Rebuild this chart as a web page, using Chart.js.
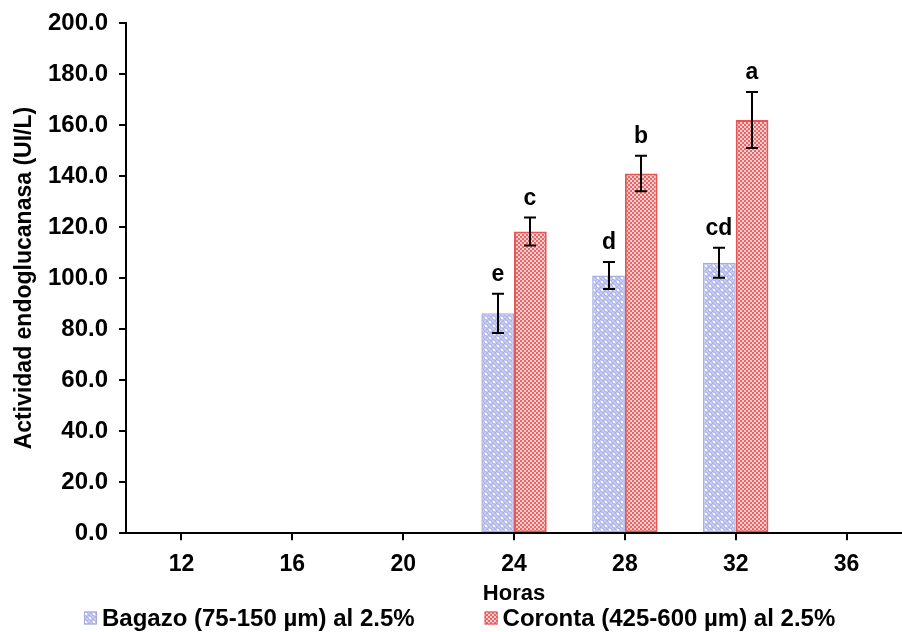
<!DOCTYPE html>
<html>
<head>
<meta charset="utf-8">
<script src="https://cdn.jsdelivr.net/npm/chart.js@4.4.1/dist/chart.umd.min.js"></script>
<style>
  html, body { margin: 0; padding: 0; background: #ffffff; }
  #wrap { width: 902px; height: 632px; position: relative; }
</style>
</head>
<body>
<div id="wrap"><canvas id="chart" width="902" height="632"></canvas></div>
<script>
// Sampling times (hours)
const horas = ['12', '16', '20', '24', '28', '32', '36'];

// Endoglucanase activity (UI/L) and standard deviation per substrate
const bagazo      = [0, 0, 0, 86.2, 101.0, 106.0, 0];
const bagazoErr   = [0, 0, 0, 7.7, 5.3, 5.9, 0];
const coronta     = [0, 0, 0, 118.3, 141.0, 162.0, 0];
const corontaErr  = [0, 0, 0, 5.5, 7.0, 11.0, 0];

// Significance letters (Tukey groups)
const bagazoLetras  = ['', '', '', 'e', 'd', 'cd', ''];
const corontaLetras = ['', '', '', 'c', 'b', 'a', ''];

// Series names
const nombres = ['Bagazo (75-150 µm) al 2.5%', 'Coronta (425-600 µm) al 2.5%'];

// Y axis range
const yMin = 0, yMax = 200, yStep = 20;

const FONT = '"Liberation Sans", Arial, sans-serif';

// Dotted blue texture: light checker with staggered white dots
function dotPattern() {
  const c = document.createElement('canvas');
  c.width = 8; c.height = 8;
  const g = c.getContext('2d');
  g.fillStyle = '#afb5e8';
  g.fillRect(0, 0, 8, 8);
  g.fillStyle = '#cacef2';
  for (let y = 0; y < 8; y += 2) for (let x = 0; x < 8; x += 2) if (((x + y) / 2) % 2 === 0) g.fillRect(x, y, 2, 2);
  g.fillStyle = '#ffffff';
  g.fillRect(1, 1, 2, 2);
  g.fillRect(5, 5, 2, 2);
  return g.createPattern(c, 'repeat');
}

// Red checker texture
function checkerPattern() {
  const c = document.createElement('canvas');
  c.width = 4; c.height = 4;
  const g = c.getContext('2d');
  g.fillStyle = '#fbd0d0';
  g.fillRect(0, 0, 4, 4);
  g.fillStyle = '#ee6464';
  g.fillRect(0, 0, 2, 2);
  g.fillRect(2, 2, 2, 2);
  return g.createPattern(c, 'repeat');
}

const ctx0 = document.getElementById('chart').getContext('2d');
const bluePat = dotPattern();
const redPat = checkerPattern();

// Error bars plus significance letters above each bar
const errorBars = {
  id: 'errorBars',
  afterDatasetsDraw(chart) {
    const ctx = chart.ctx;
    const ys = chart.scales.y;
    const errs = [bagazoErr, corontaErr];
    const vals = [bagazo, coronta];
    const letras = [bagazoLetras, corontaLetras];
    ctx.save();
    chart.data.datasets.forEach((ds, d) => {
      const meta = chart.getDatasetMeta(d);
      meta.data.forEach((bar, i) => {
        const v = vals[d][i], e = errs[d][i];
        if (!v) return;
        const x = Math.round(bar.x);
        const yTop = ys.getPixelForValue(v + e);
        const yBot = ys.getPixelForValue(v - e);
        ctx.strokeStyle = '#000';
        ctx.lineWidth = 2;
        ctx.beginPath();
        ctx.moveTo(x, yTop); ctx.lineTo(x, yBot);
        ctx.moveTo(x - 6, yTop); ctx.lineTo(x + 6, yTop);
        ctx.moveTo(x - 6, yBot); ctx.lineTo(x + 6, yBot);
        ctx.stroke();
        if (letras[d][i]) {
          ctx.fillStyle = '#000';
          ctx.font = 'bold 23px ' + FONT;
          ctx.textAlign = 'center';
          ctx.textBaseline = 'middle';
          ctx.fillText(letras[d][i], x, yTop - 19);
        }
      });
    });
    ctx.restore();
  }
};

// Legend row under the axis title
const legendRow = {
  id: 'legendRow',
  afterDraw(chart) {
    const ctx = chart.ctx;
    ctx.save();
    ctx.font = 'bold 24px ' + FONT;
    ctx.textBaseline = 'middle';
    ctx.textAlign = 'left';
    const box = 13, gap = 5, spacing = 70;
    const w1 = ctx.measureText(nombres[0]).width;
    const w2 = ctx.measureText(nombres[1]).width;
    const total = box + gap + w1 + spacing + box + gap + w2;
    let x = Math.round(460 - total / 2);
    const y = 618;
    const pats = [bluePat, redPat];
    const borders = ['#a4abe0', '#e85050'];
    [w1, w2].forEach((w, k) => {
      ctx.fillStyle = pats[k];
      ctx.fillRect(x, y - box / 2, box, box);
      ctx.strokeStyle = borders[k];
      ctx.lineWidth = 1;
      ctx.strokeRect(x + 0.5, y - box / 2 + 0.5, box - 1, box - 1);
      ctx.fillStyle = '#000';
      ctx.fillText(nombres[k], x + box + gap, y + 1);
      x += box + gap + w + spacing;
    });
    ctx.restore();
  }
};

new Chart(ctx0, {
  type: 'bar',
  data: {
    labels: horas,
    datasets: [
      {
        label: nombres[0],
        data: bagazo,
        backgroundColor: bluePat,
        borderColor: '#a7aee2',
        borderWidth: 1.5,
        borderSkipped: false,
        categoryPercentage: 0.59,
        barPercentage: 1.0
      },
      {
        label: nombres[1],
        data: coronta,
        backgroundColor: redPat,
        borderColor: '#e85555',
        borderWidth: 2,
        borderSkipped: false,
        categoryPercentage: 0.59,
        barPercentage: 1.0
      }
    ]
  },
  options: {
    responsive: false,
    animation: false,
    layout: { padding: { top: 8, right: 0, bottom: 34, left: 13 } },
    plugins: {
      legend: { display: false },
      tooltip: { enabled: false }
    },
    scales: {
      x: {
        grid: { display: true, offset: false, drawOnChartArea: false, drawTicks: true, tickLength: 7, color: '#000', lineWidth: 2 },
        border: { display: true, color: '#000', width: 2 },
        ticks: { color: '#000', font: { family: FONT, size: 23, weight: 'bold', lineHeight: 1.0 }, padding: 12.5 },
        title: { display: true, text: 'Horas', color: '#000', font: { family: FONT, size: 22, weight: 'bold', lineHeight: 0.4 }, padding: { top: 1, bottom: 0 } }
      },
      y: {
        min: yMin, max: yMax,
        grid: { display: true, drawOnChartArea: false, drawTicks: true, tickLength: 7, color: '#000', lineWidth: 2 },
        border: { display: true, color: '#000', width: 2 },
        ticks: {
          stepSize: yStep, color: '#000', padding: 11,
          font: { family: FONT, size: 24, weight: 'bold', lineHeight: 1.0 },
          callback: v => Number(v).toFixed(1)
        },
        title: { display: true, text: 'Actividad endoglucanasa (UI/L)', color: '#000', font: { family: FONT, size: 23, weight: 'bold', lineHeight: 1.0 }, padding: { top: 0, bottom: 1 } }
      }
    }
  },
  plugins: [errorBars, legendRow]
});
</script>
</body>
</html>
